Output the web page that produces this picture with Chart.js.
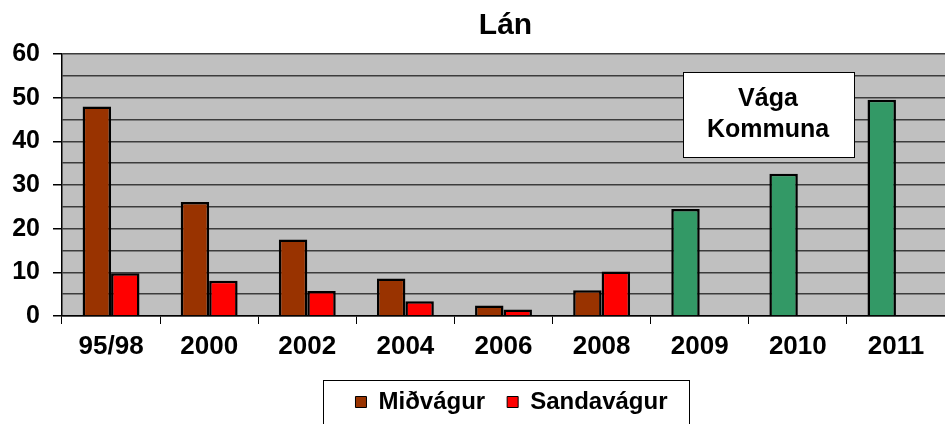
<!DOCTYPE html>
<html>
<head>
<meta charset="utf-8">
<script src="https://cdn.jsdelivr.net/npm/chart.js@4"></script>
<style>
  html, body { margin: 0; padding: 0; background: #fff; }
  #wrap { width: 945px; height: 424px; }
</style>
</head>
<body>
<div id="wrap"><canvas id="lanChart" width="945" height="424"></canvas></div>
<script>
// data
const years = ['95/98', '2000', '2002', '2004', '2006', '2008', '2009', '2010', '2011'];
const midvagur = [48, 26.1, 17.5, 8.6, 2.4, 5.9, 24.5, 32.6, 49.5];
const sandavagur = [9.8, 8.1, 5.7, 3.4, 1.5, 10.2, null, null, null];
const yTicks = [0, 10, 20, 30, 40, 50, 60];

const brown = '#993300';
const red = '#ff0000';
const green = '#339966';
const font = 'Liberation Sans, Arial, sans-serif';

// from 2009 the first bar is the whole Vága Kommuna
const midColors = years.map((y, i) => i >= 6 ? green : brown);

// grey plot background, the "Vága Kommuna" note and the box round the legend
const extras = {
  id: 'extras',
  afterLayout(chart) {
    // title and legend are centred over the plot, not the canvas
    chart.titleBlock.left += 33;
    chart.titleBlock.right += 33;
    chart.legend.left += 39;
    chart.legend.right += 39;
  },
  beforeDraw(chart) {
    const a = chart.chartArea;
    const ctx = chart.ctx;
    ctx.save();
    ctx.fillStyle = '#c0c0c0';
    ctx.fillRect(a.left, a.top, a.right - a.left, a.bottom - a.top);
    ctx.restore();
  },
  afterDraw(chart) {
    const ctx = chart.ctx;
    ctx.save();
    // note box
    ctx.fillStyle = '#fff';
    ctx.fillRect(683, 72, 171, 85);
    ctx.strokeStyle = '#000';
    ctx.lineWidth = 1;
    ctx.strokeRect(683.5, 72.5, 171, 85);
    ctx.fillStyle = '#000';
    ctx.font = 'bold 25px ' + font;
    ctx.textAlign = 'center';
    ctx.textBaseline = 'middle';
    ctx.fillText('Vága', 768, 99);
    ctx.fillText('Kommuna', 768, 130);
    // legend frame
    const boxes = chart.legend.legendHitBoxes;
    if (boxes && boxes.length) {
      const left = Math.min(...boxes.map(b => b.left)) - 32;
      const right = Math.max(...boxes.map(b => b.left + b.width)) + 22;
      ctx.strokeStyle = '#000';
      ctx.strokeRect(Math.round(left) + 0.5, 380.5, Math.round(right - left), 60);
    }
    ctx.restore();
  }
};

new Chart(document.getElementById('lanChart'), {
  type: 'bar',
  data: {
    labels: years,
    datasets: [
      {
        label: 'Miðvágur',
        data: midvagur,
        backgroundColor: midColors,
        borderColor: '#000',
        borderWidth: 2.5
      },
      {
        label: 'Sandavágur',
        data: sandavagur,
        backgroundColor: red,
        borderColor: '#000',
        borderWidth: 2.5
      }
    ]
  },
  plugins: [extras],
  options: {
    responsive: false,
    animation: false,
    layout: { padding: { left: 0, right: 0, top: 0, bottom: 0 } },
    datasets: {
      bar: { categoryPercentage: 0.58, barPercentage: 1 }
    },
    plugins: {
      title: {
        display: true,
        text: 'Lán',
        color: '#000',
        font: { family: font, size: 30, weight: 'bold' },
        padding: { top: 8, bottom: 10 }
      },
      legend: {
        position: 'bottom',
        labels: {
          color: '#000',
          font: { family: font, size: 24, weight: 'bold' },
          boxWidth: 11,
          boxHeight: 11,
          padding: 22,
          generateLabels(chart) {
            return chart.data.datasets.map((ds, i) => ({
              text: ds.label,
              fillStyle: i === 0 ? brown : red,
              strokeStyle: '#000',
              lineWidth: 1,
              fontColor: '#000',
              datasetIndex: i
            }));
          }
        }
      },
      tooltip: { enabled: false }
    },
    scales: {
      x: {
        offset: true,
        afterFit(scale) { scale.height = 52; },
        grid: {
          offset: true,
          drawOnChartArea: false,
          tickLength: 8,
          tickColor: '#000'
        },
        border: { color: '#000', width: 1.5 },
        ticks: {
          color: '#000',
          padding: 7,
          font: { family: font, size: 26, weight: 'bold' }
        }
      },
      y: {
        min: 0,
        max: 60,
        afterFit(scale) { scale.width = 62; },
        grid: {
          color: '#3c3c3c',
          lineWidth: 1.5,
          tickLength: 9,
          tickColor: ctx => ctx.tick && ctx.tick.value % 10 === 0 ? '#000' : 'rgba(0,0,0,0)'
        },
        border: { color: '#000', width: 1.5 },
        ticks: {
          stepSize: 5,
          autoSkip: false,
          color: '#000',
          padding: 13,
          font: { family: font, size: 25, weight: 'bold' },
          callback: v => yTicks.includes(v) ? String(v) : ''
        }
      }
    }
  }
});
</script>
</body>
</html>
